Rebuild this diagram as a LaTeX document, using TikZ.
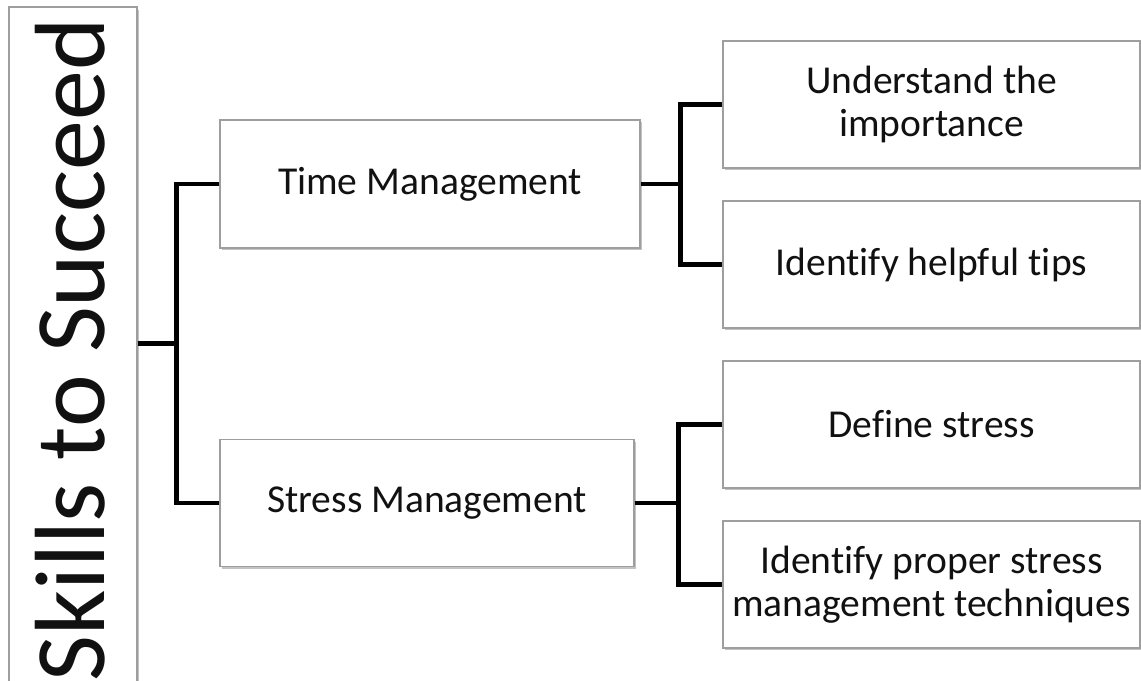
\documentclass[tikz,border=0pt]{standalone}
\usepackage{fontspec}
\setmainfont{Carlito}[RawFeature=-liga]
\usetikzlibrary{positioning, shadows, calc}
\definecolor{borde}{HTML}{9E9E9E}
\definecolor{tinta}{HTML}{111111}
\definecolor{sombra}{HTML}{7A7A7A}
\tikzset{
  caja/.style={rectangle, draw=borde, fill=white, line width=0.7pt, text=tinta,
               align=center, font=\fontsize{22.5}{24.5}\selectfont,
               drop shadow={shadow xshift=1.2pt, shadow yshift=-1.4pt, fill=sombra, opacity=0.45}},
  rama/.style={line width=2.4pt, draw=black},
  hoja/.style={caja, minimum width=8.34cm, minimum height=2.54cm}
}
\begin{document}
\begin{tikzpicture}[x=0.02cm, y=-0.02cm]
  \useasboundingbox (0,0) rectangle (1141,680);
  % titulo vertical
  \node (titulo) [caja, rotate=90, minimum width=13.72cm, minimum height=2.56cm,
                  text depth=0.32em, font=\fontsize{56.8}{60}\selectfont] at (73,350) {Skills to Succeed};
  % nivel 1
  \node (tm) [caja, minimum width=8.4cm, minimum height=2.56cm] at (430,184) {Time Management};
  \node (sm) [caja, minimum width=8.28cm, minimum height=2.54cm] at (427,503) {Stress Management};
  % nivel 2
  \node (ua) [hoja] at (931.5,104.5) {Understand the\\ importance};
  \node (it) [hoja] at (931.5,264.5) {Identify helpful tips};
  \node (ds) [hoja] at (931.5,424.5) {Define stress};
  \node (ip) [hoja] at (931.5,584.5) {Identify proper stress\\ management techniques};
  % conectores
  \coordinate (j0) at ($($(tm.west)!0.5!(sm.west)$)+(-43,0)$);
  \draw [rama] (titulo.south |- j0) -- (j0);
  \draw [rama] (tm.west) -| (j0) |- (sm.west);
  \draw [rama] (tm.east) -- ++(40,0) coordinate (j1);
  \draw [rama] (ua.west) -| (j1) |- (it.west);
  \draw [rama] (sm.east) -- ++(44,0) coordinate (j2);
  \draw [rama] (ds.west) -| (j2) |- (ip.west);
\end{tikzpicture}
\end{document}
